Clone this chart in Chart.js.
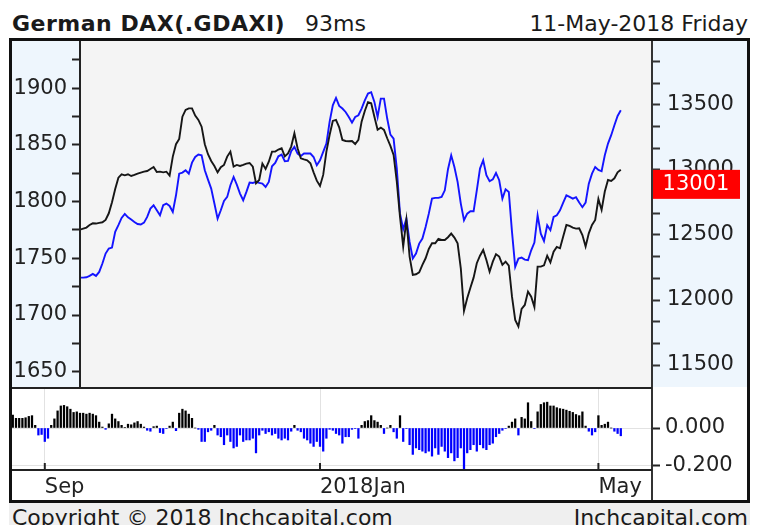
<!DOCTYPE html>
<html><head><meta charset="utf-8">
<script src="https://cdn.jsdelivr.net/npm/chart.js@4/dist/chart.umd.min.js"></script>
<style>
html,body{margin:0;padding:0;background:#fff;width:761px;height:525px;overflow:hidden;font-family:"DejaVu Sans",Verdana,sans-serif;}
.abs{position:absolute;}
.t{white-space:nowrap;line-height:22px;font-size:22px;color:#1a1a1a;}
#frame{left:9px;top:38px;width:741px;height:465px;box-sizing:border-box;border:3px solid #111;}
#foot{left:9px;top:503px;width:741px;height:22px;background:#efefef;}
#c1{left:12px;top:41px;background:#eef6fd;}
#c2{left:12px;top:389px;background:#fff;}
.ln{position:absolute;background:#222;z-index:5;}
</style></head>
<body>
<div id="frame" class="abs"></div>
<div id="foot" class="abs"></div>
<div class="abs t" style="left:12px;top:13px;font-weight:bold;letter-spacing:0.5px;">German DAX(.GDAXI)</div>
<div class="abs t" style="left:305px;top:13px;">93ms</div>
<div class="abs t" style="right:13px;top:13px;">11-May-2018 Friday</div>
<div class="abs t" style="left:12px;top:507px;">Copyright © 2018 Inchcapital.com</div>
<div class="abs t" style="right:13px;top:507px;">Inchcapital.com</div>
<canvas id="c1" class="abs" width="735" height="346"></canvas>
<canvas id="c2" class="abs" width="735" height="111"></canvas>
<div class="ln" style="left:79px;top:41px;width:2px;height:346px;"></div>
<div class="ln" style="left:651px;top:41px;width:2px;height:459px;background:#333;"></div>
<div class="ln" style="left:12px;top:387px;width:640px;height:2px;"></div>
<div class="ln" style="left:12px;top:469px;width:640px;height:2px;"></div>
<script>
// ---- data (trading-day index based) ----
const mainStartIndex = 21;
const daxClose = [12541,12549,12557,12577,12590,12588,12593,12598,12616,12667,12752,12854,12941,12967,12959,12967,12954,12962,12972,12980,
12987,12992,13008,13023,12985,12987,12982,12987,12957,13103,13198,13239,13410,13462,13474,13474,13418,13385,13333,13198,
13121,13069,13031,12982,13021,13039,13103,13141,13026,13039,13031,13039,13049,13054,13026,12898,12923,13049,13008,13064,
13141,13141,13157,13167,13105,13128,13180,13282,13167,13090,13082,13075,13052,12982,12918,12877,12962,13141,13269,13377,
13385,13328,13231,13223,13221,13223,13200,13231,13372,13454,13521,13513,13410,13310,13326,13308,13244,13185,13116,12911,
12641,12411,12616,12334,12193,12198,12213,12270,12321,12393,12436,12436,12470,12462,12462,12483,12511,12480,12436,12244,
11916,12013,12095,12172,12283,12341,12385,12308,12218,12295,12352,12334,12270,12295,12265,12026,11847,11796,11932,11962,
12065,12026,11947,12257,12257,12267,12341,12290,12372,12408,12398,12488,12577,12570,12557,12549,12552,12500,12411,12513,
12577,12616,12777,12693,12834,12923,12916,12936,12982,13001];
const compareIndex = [1733.0,1733.0,1733.3,1734.5,1736.3,1734.5,1738.0,1745.4,1754.2,1758.6,1759.5,1773.3,1779.2,1785.6,1789.2,1786.2,1784.2,1782.1,1780.3,1779.8,
1781.5,1786.5,1793.9,1796.8,1792.4,1788.0,1796.8,1798.3,1796.2,1790.9,1805.6,1824.7,1825.6,1827.7,1824.7,1834.4,1839.4,1841.5,1840.9,1827.7,
1819.4,1811.5,1798.3,1785.0,1792.4,1800.6,1804.2,1814.5,1821.8,1815.0,1807.1,1801.2,1808.6,1816.8,1816.5,1817.4,1816.5,1815.9,1813.0,1817.4,
1831.2,1834.1,1840.0,1841.5,1835.6,1835.9,1844.4,1848.3,1842.4,1840.3,1842.4,1842.4,1842.4,1839.4,1832.1,1836.5,1843.9,1851.2,1870.3,1885.0,
1891.5,1884.4,1882.1,1879.1,1874.7,1869.7,1874.7,1876.2,1882.1,1889.4,1895.3,1896.5,1888.0,1874.7,1890.9,1890.9,1873.3,1859.1,1855.6,1829.2,
1789.4,1775.6,1785.0,1764.5,1749.8,1754.2,1763.0,1767.4,1777.7,1789.4,1802.7,1803.3,1803.3,1804.2,1810.0,1828.6,1840.9,1830.6,1817.4,1798.3,
1783.6,1789.4,1791.5,1791.5,1810.0,1829.2,1836.5,1823.3,1818.0,1819.7,1825.3,1818.9,1802.7,1810.9,1808.6,1773.3,1742.4,1749.8,1750.6,1748.9,
1748.3,1757.1,1763.9,1788.0,1771.8,1765.3,1779.2,1774.8,1786.5,1788.0,1792.4,1799.2,1805.6,1804.2,1802.7,1803.9,1799.2,1795.1,1799.2,1815.9,
1824.7,1830.6,1828.0,1826.8,1840.9,1851.2,1858.6,1867.4,1875.6,1880.6];
const oscillator = [0.068,0.051,0.051,0.051,0.054,0.061,0.065,0.014,-0.037,-0.034,-0.071,-0.054,0.014,0.048,0.090,0.116,0.119,0.112,0.099,0.082,
0.085,0.078,0.078,0.073,0.078,0.073,0.065,0.031,0.005,-0.007,0.022,0.073,0.048,0.034,0.014,0.003,0.020,0.017,0.027,0.034,
0.020,0.005,-0.012,-0.017,0.007,0.010,-0.024,-0.029,-0.003,0.010,0.031,-0.014,0.078,0.099,0.090,0.073,0.051,0.000,-0.007,-0.071,
-0.071,-0.020,-0.012,0.014,-0.037,-0.046,-0.088,-0.037,-0.071,-0.105,-0.097,-0.037,-0.071,-0.063,-0.063,-0.054,-0.131,-0.037,-0.012,-0.029,
-0.020,-0.037,-0.029,-0.054,-0.063,-0.054,-0.063,-0.017,0.014,-0.012,-0.020,-0.054,-0.063,-0.080,-0.097,-0.071,-0.097,-0.122,-0.054,-0.007,
-0.012,-0.029,-0.037,-0.080,-0.046,-0.046,-0.007,-0.003,-0.054,0.014,0.034,0.039,0.065,0.039,0.031,0.014,-0.029,0.000,0.014,-0.020,
-0.054,0.065,-0.071,-0.003,-0.088,-0.139,-0.105,-0.114,-0.122,-0.131,-0.122,-0.148,-0.105,-0.139,-0.097,-0.122,-0.156,-0.131,-0.173,-0.156,
-0.105,-0.224,-0.131,-0.114,-0.088,-0.122,-0.088,-0.105,-0.114,-0.088,-0.080,-0.046,-0.029,-0.012,-0.003,0.010,0.031,0.048,-0.037,0.056,
0.048,0.133,0.034,-0.003,0.085,0.124,0.133,0.136,0.116,0.116,0.107,0.102,0.099,0.094,0.088,0.082,0.071,0.065,0.085,0.010,
-0.017,-0.037,-0.020,0.065,0.014,0.020,0.031,0.000,-0.017,-0.029,-0.041];
const leftTickValues = [1650,1675,1700,1725,1750,1775,1800,1825,1850,1875,1900,1925];
const rightTickValues = [11500,11666.67,11833.33,12000,12166.67,12333.33,12500,12666.67,12833.33,13000,13166.67,13333.33,13500,13666.67,13833.33];
const oscTickValues = [-0.2, 0];
const xTickIndex = [10, 96, 183];
const xTickLabels = ['Sep', '2018Jan', 'May'];

Chart.defaults.font.family = '"DejaVu Sans", Verdana, sans-serif';
Chart.defaults.font.size = 21;
Chart.defaults.color = '#222';

function noPad(s) { s.paddingTop = 0; s.paddingBottom = 0; s.paddingLeft = 0; s.paddingRight = 0; }

const plotBg = {
  id: 'plotBg',
  beforeDraw(chart, args, opts) {
    const a = chart.chartArea, ctx = chart.ctx;
    ctx.save(); ctx.fillStyle = opts.color; ctx.fillRect(a.left, a.top, a.right - a.left, a.bottom - a.top); ctx.restore();
  }
};
const lastLabel = {
  id: 'lastLabel',
  afterDraw(chart) {
    const last = daxClose[daxClose.length - 1];
    const y = chart.scales.yR.getPixelForValue(last);
    const x = chart.chartArea.right, ctx = chart.ctx;
    ctx.save();
    ctx.fillStyle = '#ff0000'; ctx.fillRect(x, y, 88, 29);
    ctx.fillStyle = '#ffffff'; ctx.font = '21px "DejaVu Sans", Verdana, sans-serif';
    ctx.textAlign = 'center'; ctx.textBaseline = 'middle';
    ctx.fillText(String(last), x + 44, y + 15);
    ctx.restore();
  }
};
const tickMarks = {
  id: 'tickMarks',
  afterDraw(chart) {
    const a = chart.chartArea, ctx = chart.ctx, sx = chart.scales.x;
    ctx.save(); ctx.strokeStyle = '#222'; ctx.lineWidth = 2;
    xTickIndex.forEach(v => { const px = sx.getPixelForValue(v); ctx.beginPath(); ctx.moveTo(px, a.bottom - 6); ctx.lineTo(px, a.bottom); ctx.stroke(); });
    ctx.restore();
  }
};

new Chart(document.getElementById('c1'), {
  type: 'line',
  data: {
    datasets: [
      { label: 'DAX', yAxisID: 'yR', data: daxClose.map((v, k) => ({x: mainStartIndex + k, y: v})),
        borderColor: '#161616', borderWidth: 1.9, pointRadius: 0, tension: 0 },
      { label: 'Compare', yAxisID: 'yL', data: compareIndex.map((v, k) => ({x: mainStartIndex + k, y: v})),
        borderColor: '#1414ff', borderWidth: 1.9, pointRadius: 0, tension: 0 }
    ]
  },
  options: {
    responsive: false, animation: false, devicePixelRatio: 1,
    layout: { padding: 0, autoPadding: false },
    plugins: { legend: { display: false }, tooltip: { enabled: false }, plotBg: { color: '#f4f4f4' } },
    scales: {
      x: { type: 'linear', display: false, min: 21, max: 199.75, afterFit: noPad },
      yL: { type: 'linear', position: 'left', min: 1636.5, max: 1941.7,
        afterBuildTicks: s => { s.ticks = leftTickValues.map(v => ({value: v})); },
        afterFit: s => { s.width = 68; noPad(s); },
        ticks: { autoSkip: false, padding: 5, callback: v => (v % 50 === 0 ? String(v) : '') },
        grid: { drawOnChartArea: false, drawTicks: true, tickLength: 8, tickColor: '#222', tickWidth: 2 },
        border: { display: false } },
      yR: { type: 'linear', position: 'right', min: 11331, max: 13992,
        afterBuildTicks: s => { s.ticks = rightTickValues.map(v => ({value: v})); },
        afterFit: s => { s.width = 95; noPad(s); },
        ticks: { autoSkip: false, padding: 7, callback: v => (Number.isInteger(v / 500) ? String(v) : '') },
        grid: { drawOnChartArea: false, drawTicks: true, tickLength: 8, tickColor: '#333', tickWidth: 2 },
        border: { display: false } }
    }
  },
  plugins: [plotBg, lastLabel]
});

new Chart(document.getElementById('c2'), {
  type: 'bar',
  data: {
    datasets: [{ label: 'Osc', data: oscillator.map((v, i) => ({x: i, y: v})),
      backgroundColor: oscillator.map(v => (v >= 0 ? '#000000' : '#0000ff')),
      barThickness: 1.6, borderWidth: 0 }]
  },
  options: {
    responsive: false, animation: false, devicePixelRatio: 1,
    layout: { padding: 0, autoPadding: false },
    plugins: { legend: { display: false }, tooltip: { enabled: false } },
    scales: {
      x: { type: 'linear', min: -0.25, max: 199.75, offset: false,
        afterBuildTicks: s => { s.ticks = xTickIndex.map(v => ({value: v})); },
        afterFit: s => { s.height = 31; noPad(s); },
        ticks: { autoSkip: false, maxRotation: 0, align: 'start', padding: 6, callback: (v, i) => xTickLabels[i] },
        grid: { color: '#e2e2e2', drawTicks: false, offset: false },
        border: { display: false } },
      y: { type: 'linear', position: 'right', min: -0.2158, max: 0.2053,
        afterBuildTicks: s => { s.ticks = oscTickValues.map(v => ({value: v})); },
        afterFit: s => { s.width = 95; noPad(s); },
        ticks: { autoSkip: false, padding: 5, callback: v => Number(v).toFixed(3) },
        grid: { color: '#e2e2e2', tickColor: '#222', tickLength: 8, tickWidth: 2 },
        border: { display: false } }
    }
  },
  plugins: [tickMarks]
});
</script>
</body></html>
